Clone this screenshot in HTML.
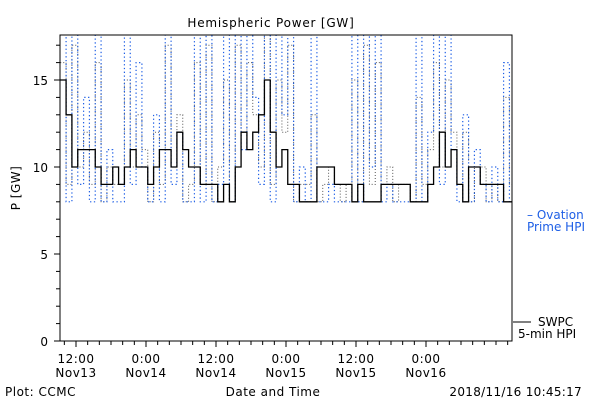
<!DOCTYPE html>
<html><head><meta charset="utf-8"><style>
body{margin:0;background:#fff;width:600px;height:400px;overflow:hidden}
text{font-family:"DejaVu Sans","Liberation Sans",sans-serif;font-size:12px}
</style></head><body>
<svg id="chart" width="600" height="400" viewBox="0 0 600 400" xmlns="http://www.w3.org/2000/svg">
<text x="271" y="27" text-anchor="middle" font-size="15" letter-spacing="0.8">Hemispheric Power [GW]</text>
<text transform="translate(20,188) rotate(-90)" text-anchor="middle" letter-spacing="0.5">P [GW]</text>
<text x="273" y="396" text-anchor="middle" letter-spacing="0.5">Date and Time</text>
<text x="5" y="396" letter-spacing="0.5">Plot: CCMC</text>
<text x="582" y="396" text-anchor="end" letter-spacing="0.3">2018/11/16 10:45:17</text>
<g id="series"></g>
<g id="axes"></g>
<rect x="60" y="35" width="452" height="306" fill="none" stroke="#000"/>
<text x="527" y="219" fill="#1e5fe6">– Ovation</text>
<text x="527" y="231" fill="#1e5fe6">Prime HPI</text>
<line x1="513" y1="322" x2="531" y2="322" stroke="#000"/>
<text x="538" y="326">SWPC</text>
<text x="518" y="338">5-min HPI</text>
</svg>
<script>
const startHour = 9.3;
const swpcValues = [15,13,10,11,11,11,10,9,9,10,9,10,11,10,10,9,10,11,11,10,12,11,10,10,9,9,9,8,9,8,10,12,11,12,13,15,12,10,11,9,9,8,8,8,10,10,10,9,9,9,8,9,8,8,8,9,9,9,9,9,8,8,8,9,10,12,10,11,9,8,10,10,9,9,9,9,8,8];
const ovationValues = [18,8,18,9,14,8,18,8,11,8,8,18,9,16,10,8,13,8,18,9,12,8,8,18,8,18,8,9,18,8,18,11,18,14,9,18,8,18,13,18,8,10,8,18,8,8,9,8,8,8,18,8,18,10,18,8,9,8,8,8,8,18,8,12,18,9,18,11,8,13,8,11,9,8,10,8,16,8];
const grayValues = [16,9,17,10,12,9,16,8,10,9,9,15,10,13,11,8,12,9,17,10,13,8,9,16,9,17,8,10,15,8,17,12,16,13,10,18,9,15,12,17,8,9,9,13,8,9,10,9,8,9,15,8,17,9,16,9,10,8,9,9,8,14,9,11,16,10,15,12,9,12,8,10,10,8,9,8,14,9];
const yTicks = [0,5,10,15];
const xTickLabels = [["12:00","Nov13"],["0:00","Nov14"],["12:00","Nov14"],["0:00","Nov15"],["12:00","Nov15"],["0:00","Nov16"]];
const xTickHours = [12,24,36,48,60,72];

const NS="http://www.w3.org/2000/svg";
const xS=h=>76+(h-12)*70/12;
const yS=v=>341-v*17.4;
const series=document.getElementById('series');
const axes=document.getElementById('axes');
function mk(t,a,p){const e=document.createElementNS(NS,t);for(const k in a)e.setAttribute(k,a[k]);p.appendChild(e);return e;}
const defs=mk('defs',{},series);
const cp=mk('clipPath',{id:'clip'},defs);
mk('rect',{x:60,y:35,width:452,height:306},cp);
function stepPath(vals){let d='';vals.forEach((v,i)=>{const x0=Math.min(512,xS(startHour+i)),x1=Math.min(512,xS(startHour+i+1)),y=yS(v);d+=(i?'L':'M')+x0+','+y+'L'+x1+','+y;});return d;}
const g=mk('g',{'clip-path':'url(#clip)'},series);
const gp=mk('path',{d:stepPath(grayValues),fill:'none',stroke:'#555','stroke-width':1,'stroke-dasharray':'1 2'},g);


const op=mk('path',{d:stepPath(ovationValues),fill:'none',stroke:'#1e5fe6','stroke-width':1.2,'stroke-dasharray':'1.3 2.5'},g);


const sp=mk('path',{d:stepPath(swpcValues),fill:'none',stroke:'#000','stroke-width':1.3},g);


for(let v=0;v<=17;v++){const major=yTicks.includes(v);
 const t=mk('line',{x1:60-(major?6:4),x2:60,y1:yS(v),y2:yS(v),stroke:'#000'},axes);
 
 }
yTicks.forEach(v=>{const t=mk('text',{x:48,y:yS(v)+5,'text-anchor':'end','font-size':13},axes);t.textContent=v;
 
 });
for(let h=10;h<=86;h+=2){const x=xS(h);if(x<60||x>512)continue;const major=xTickHours.includes(h);
 const t=mk('line',{x1:x,x2:x,y1:341,y2:341+(major?6:4),stroke:'#000'},axes);
 
 }
xTickHours.forEach((h,i)=>{const x=xS(h);
 const t1=mk('text',{x:x,y:363,'text-anchor':'middle','letter-spacing':'0.5'},axes);t1.textContent=xTickLabels[i][0];
 
 
 const t2=mk('text',{x:x,y:377,'text-anchor':'middle','letter-spacing':'0.5'},axes);t2.textContent=xTickLabels[i][1];
 
 });
</script>
</body></html>
